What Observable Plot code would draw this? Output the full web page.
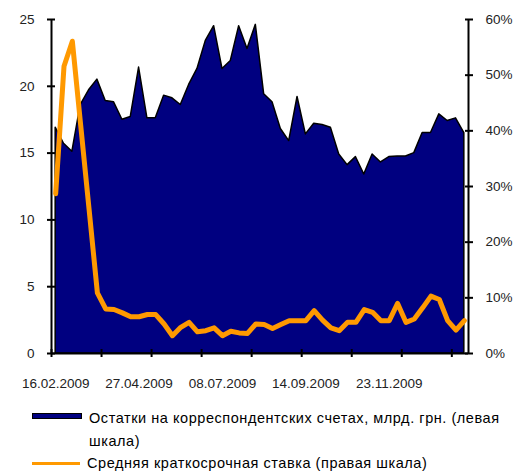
<!DOCTYPE html>
<html><head><meta charset="utf-8">
<script src="https://cdn.jsdelivr.net/npm/d3@7"></script>
<script src="https://cdn.jsdelivr.net/npm/@observablehq/plot@0.6"></script>
<style>
body{margin:0;background:#fff;font-family:"Liberation Sans",Arial,sans-serif;}
#chart svg{display:block;}
.leg{position:relative;width:514px;height:77px;font-size:14.5px;color:#000;}
.item{position:absolute;left:32px;display:flex;align-items:flex-start;}
.sw{width:48px;flex:none;margin-right:7px;}
.txt{line-height:23px;width:427px;letter-spacing:0.55px;}
</style></head>
<body>
<div id="chart"></div>
<div class="leg">
  <div class="item" style="top:12px"><div class="sw" style="height:4px;background:#000080;border:1px solid #000;margin-top:6px"></div><div class="txt" id="l1"></div></div>
  <div class="item" style="top:58px"><div class="sw" style="height:3px;background:#FF9900;margin-top:9px"></div><div class="txt" id="l2" style="line-height:20px;margin-top:0px"></div></div>
</div>
<script>
const seriesNames = ["Остатки на корреспондентских счетах, млрд. грн. (левая шкала)", "Средняя краткосрочная ставка (правая шкала)"];
// weekly observations, index 0..49
const balances = [16.9,15.7,15.1,18.6,19.7,20.5,18.9,18.8,17.5,17.7,
  21.4,17.6,17.6,19.3,19.1,18.6,20.1,21.3,23.4,24.5,
  21.3,21.9,24.5,22.8,24.6,19.4,18.8,16.8,15.9,19.2,
  16.4,17.2,17.1,16.9,14.9,14.1,14.7,13.4,14.9,14.3,
  14.7,14.75,14.75,15.0,16.5,16.5,17.9,17.4,17.6,16.5];
const rates = [28.7,51.6,56.1,41,26,10.9,8.0,7.9,7.3,6.6,
  6.6,7.0,7.0,5.3,3.2,4.7,5.6,3.9,4.1,4.6,
  3.2,4.0,3.7,3.6,5.3,5.2,4.5,5.2,5.9,5.9,
  5.9,7.7,6.0,4.6,4.1,5.6,5.6,7.9,7.4,5.9,
  5.9,9.0,5.6,6.2,8.2,10.3,9.7,5.9,4.2,5.9];
const dateLabels = ["16.02.2009","27.04.2009","08.07.2009","14.09.2009","23.11.2009"];
const dateLabelIdx = [0,10,20,30,40];
const leftTicks = [0,5,10,15,20,25];
const rightTicks = [0,10,20,30,40,50,60];
const leftMax = 25, rightMax = 60;

const n = balances.length;
const data = balances.map((v,i)=>({i, bal:v, rate:rates[i], rateL: rates[i]*leftMax/rightMax}));
const xTicks = d3.range(-0.5, n - 0.5, 6);

const chart = Plot.plot({
  width: 514, height: 395,
  marginLeft: 51, marginRight: 46, marginTop: 19, marginBottom: 42,
  style: {fontFamily: '"Liberation Sans", Arial, sans-serif', fontSize: "13.5px", color: "#222"},
  x: {type: "linear", domain: [-0.5, n - 0.5]},
  y: {domain: [0, leftMax]},
  marks: [
    Plot.areaY(data, {x: "i", y: "bal", fill: "#000080", stroke: "#000", strokeWidth: 1.5}),
    Plot.lineY(data, {x: "i", y: "rateL", stroke: "#FF9900", strokeWidth: 5, strokeLinejoin: "round"}),
    Plot.ruleY([0], {stroke: "#000", strokeWidth: 2}),
    Plot.ruleX([-0.5, n - 0.5], {stroke: "#000", strokeWidth: 2}),
    Plot.axisY(leftTicks, {anchor: "left", tickSize: 8, dx: 4, tickPadding: 13, label: null, stroke: "#000", strokeWidth: 2}),
    Plot.axisY(rightTicks.map(t => t*leftMax/rightMax), {anchor: "right", tickSize: 8, dx: -4, tickPadding: 13, label: null, stroke: "#000", strokeWidth: 2, tickFormat: d => Math.round(d*rightMax/leftMax) + "%"}),
    Plot.axisX(xTicks, {anchor: "bottom", tickSize: 8, dy: -4, tickFormat: () => "", label: null, stroke: "#000", strokeWidth: 2}),
    Plot.axisX(dateLabelIdx, {anchor: "bottom", tickSize: 0, tickPadding: 25, label: null, tickFormat: (d) => dateLabels[dateLabelIdx.indexOf(d)]})
  ]
});
document.getElementById("chart").appendChild(chart);
document.getElementById("l1").textContent = seriesNames[0];
document.getElementById("l2").textContent = seriesNames[1];
</script>
</body></html>
